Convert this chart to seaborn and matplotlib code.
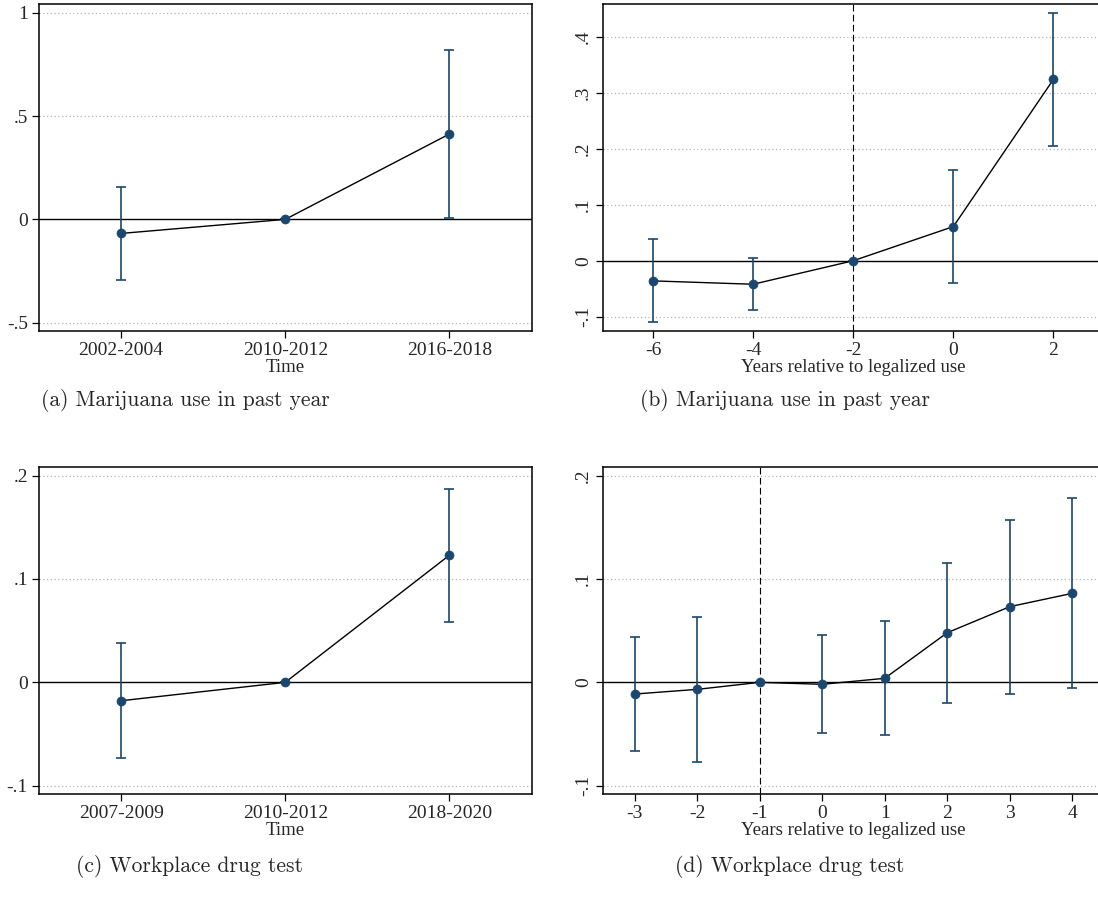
import numpy as np
import pandas as pd
import matplotlib
matplotlib.use("Agg")
import matplotlib.pyplot as plt
import seaborn as sns

# ---------------- data ----------------
# (a) Marijuana use in past year, by period
a_periods = ["2002-2004", "2010-2012", "2016-2018"]
a_coef = [-0.068, 0.0, 0.413]
a_lo = [-0.294, 0.0, 0.005]
a_hi = [0.156, 0.0, 0.821]
a_yticks = [-0.5, 0.0, 0.5, 1.0]
a_yticklabels = ["-.5", "0", ".5", "1"]

# (b) Marijuana use in past year, event study
b_years = [-6, -4, -2, 0, 2]
b_coef = [-0.036, -0.042, 0.0, 0.061, 0.324]
b_lo = [-0.110, -0.088, 0.0, -0.039, 0.205]
b_hi = [0.039, 0.004, 0.0, 0.162, 0.442]
b_xticks = [-6, -4, -2, 0, 2]
b_yticks = [-0.1, 0.0, 0.1, 0.2, 0.3, 0.4]
b_yticklabels = ["-.1", "0", ".1", ".2", ".3", ".4"]

# (c) Workplace drug test, by period
c_periods = ["2007-2009", "2010-2012", "2018-2020"]
c_coef = [-0.0178, 0.0, 0.123]
c_lo = [-0.0736, 0.0, 0.0584]
c_hi = [0.0383, 0.0, 0.187]
c_yticks = [-0.1, 0.0, 0.1, 0.2]
c_yticklabels = ["-.1", "0", ".1", ".2"]

# (d) Workplace drug test, event study
d_years = [-3, -2, -1, 0, 1, 2, 3, 4]
d_coef = [-0.0113, -0.0068, 0.0, -0.0019, 0.0039, 0.048, 0.0732, 0.0861]
d_lo = [-0.0665, -0.0768, 0.0, -0.049, -0.051, -0.0197, -0.011, -0.0058]
d_hi = [0.0442, 0.0635, 0.0, 0.0461, 0.059, 0.1158, 0.1568, 0.178]
d_xticks = [-3, -2, -1, 0, 1, 2, 3, 4]
d_yticks = [-0.1, 0.0, 0.1, 0.2]
d_yticklabels = ["-.1", "0", ".1", ".2"]

captions = ["(a) Marijuana use in past year", "(b) Marijuana use in past year",
            "(c) Workplace drug test", "(d) Workplace drug test"]
xlabels = ["Time", "Years relative to legalized use", "Time", "Years relative to legalized use"]

# ---------------- style ----------------
sns.set_theme(style="white")
plt.rcParams["font.family"] = ["Liberation Serif", "DejaVu Serif"]
plt.rcParams["axes.unicode_minus"] = False

NAVY = "#1a476f"
TICK_FS = 14
LABEL_FS = 13.5

W, H = 1098, 911
fig = plt.figure(figsize=(W / 100, H / 100), dpi=100)


def px_axes(left, right, top, bottom):
    return fig.add_axes([left / W, 1 - bottom / H, (right - left) / W, (bottom - top) / H])


def draw(ax, x, coef, lo, hi, yticks, yticklabels, ylim, xlim, rotate_y, vline=None):
    df = pd.DataFrame({"x": x, "coef": coef, "lo": lo, "hi": hi})
    for yt in yticks:
        if yt != 0:
            ax.axhline(yt, color="#b4b4b4", lw=0.9, ls=(0, (1, 2)), zorder=0)
    ax.axhline(0, color="black", lw=1.0, zorder=1)
    if vline is not None:
        ax.axvline(vline, color="black", lw=0.8, ls=(0, (6, 3)), zorder=1)
    ax.errorbar(df["x"], df["coef"], yerr=[df["coef"] - df["lo"], df["hi"] - df["coef"]],
                fmt="none", ecolor=NAVY, elinewidth=1.2, capsize=3.5, capthick=1.2, zorder=2)
    sns.lineplot(data=df, x="x", y="coef", ax=ax, color="black", lw=1.0, zorder=3,
                 estimator=None, sort=False)
    sns.scatterplot(data=df, x="x", y="coef", ax=ax, color=NAVY, s=42, edgecolor=NAVY,
                    linewidth=0.5, zorder=4)
    ax.set_ylim(*ylim)
    ax.set_xlim(*xlim)
    ax.set_yticks(yticks)
    ax.set_yticklabels(yticklabels)
    ax.set_ylabel("")
    for s in ax.spines.values():
        s.set_color("black")
        s.set_linewidth(1.1)
    ax.tick_params(axis="both", which="both", direction="out", length=5, width=0.9,
                   color="black", labelsize=TICK_FS, left=True, bottom=True, pad=3)
    if rotate_y:
        for lab in ax.get_yticklabels():
            lab.set_rotation(90)
            lab.set_va("center")


# (a)
ax_a = px_axes(39, 531.5, 4, 331)
xa = list(range(len(a_periods)))
draw(ax_a, xa, a_coef, a_lo, a_hi, a_yticks, a_yticklabels, (-0.54, 1.042), (-0.5, 2.5), False)
ax_a.set_xticks(xa)
ax_a.set_xticklabels(a_periods)
ax_a.set_xlabel(xlabels[0], fontsize=LABEL_FS, labelpad=0)

# (b)
ax_b = px_axes(603, 1103.5, 4.3, 331)
draw(ax_b, b_years, b_coef, b_lo, b_hi, b_yticks, b_yticklabels, (-0.1255, 0.458), (-7, 3), True,
     vline=-2)
ax_b.set_xticks(b_xticks)
ax_b.set_xticklabels([str(v) for v in b_xticks])
ax_b.set_xlabel(xlabels[1], fontsize=LABEL_FS, labelpad=0)

# (c)
ax_c = px_axes(39, 531.5, 467.3, 794)
xc = list(range(len(c_periods)))
draw(ax_c, xc, c_coef, c_lo, c_hi, c_yticks, c_yticklabels, (-0.108, 0.208), (-0.5, 2.5), False)
ax_c.set_xticks(xc)
ax_c.set_xticklabels(c_periods)
ax_c.set_xlabel(xlabels[2], fontsize=LABEL_FS, labelpad=0)

# (d)
ax_d = px_axes(603.3, 1103.6, 467.3, 794)
draw(ax_d, d_years, d_coef, d_lo, d_hi, d_yticks, d_yticklabels, (-0.108, 0.208), (-3.5, 4.5), True,
     vline=-1)
ax_d.set_xticks(d_xticks)
ax_d.set_xticklabels([str(v) for v in d_xticks])
ax_d.set_xlabel(xlabels[3], fontsize=LABEL_FS, labelpad=0)

# captions (LaTeX-like font)
cap_pos = [(185, 401), (785, 401), (190, 866), (790, 866)]
for txt, (cx, cy) in zip(captions, cap_pos):
    fig.text(cx / W, 1 - cy / H, txt, ha="center", va="center", fontsize=15.5,
             family=["cmr10", "DejaVu Serif"])

fig.savefig("out.png", dpi=100, facecolor="white")
